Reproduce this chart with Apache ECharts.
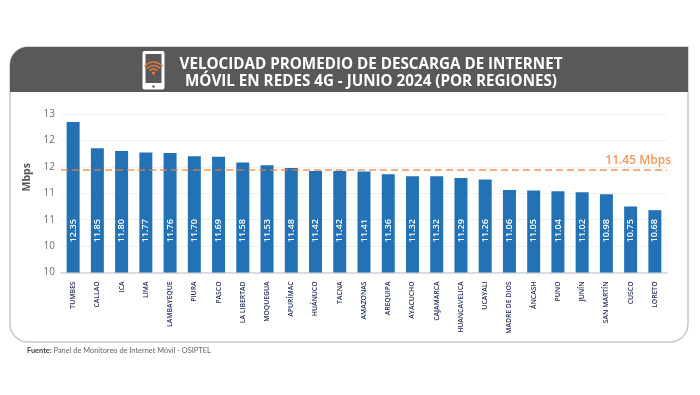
<!DOCTYPE html>
<html>
<head>
<meta charset="utf-8">
<style>
	html,body{margin:0;padding:0;background:#fff;}
	#chart{width:700px;height:395px;}
</style>
<script src="https://cdn.jsdelivr.net/npm/echarts@6/dist/echarts.min.js"></script>
</head>
<body>
<div id="chart"></div>
<script>
var regiones = ["TUMBES","CALLAO","ICA","LIMA","LAMBAYEQUE","PIURA","PASCO","LA LIBERTAD","MOQUEGUA","APURÍMAC","HUÁNUCO","TACNA","AMAZONAS","AREQUIPA","AYACUCHO","CAJAMARCA","HUANCAVELICA","UCAYALI","MADRE DE DIOS","ÁNCASH","PUNO","JUNÍN","SAN MARTÍN","CUSCO","LORETO"];
var velocidad = [12.35,11.85,11.80,11.77,11.76,11.70,11.69,11.58,11.53,11.48,11.42,11.42,11.41,11.36,11.32,11.32,11.29,11.26,11.06,11.05,11.04,11.02,10.98,10.75,10.68];
var promedio = 11.45;
//las etiquetas del eje van redondeadas en el original
var ejeValores = [9.5,10,10.5,11,11.5,12,12.5];
var ejeEtiquetas = ["10","10","11","11","12","12","13"];

var myChart = echarts.init(document.getElementById('chart'));
var fontName = '"Open Sans", sans-serif';

var option = {
	animation: false,
	backgroundColor: '#ffffff',
	textStyle: {fontFamily: fontName},
	title: {
		text: 'VELOCIDAD PROMEDIO DE DESCARGA DE INTERNET\nMÓVIL EN REDES 4G - JUNIO 2024 (POR REGIONES)',
		left: 366,
		top: 51,
		textAlign: 'center',
		textStyle: {
			color: '#ffffff',
			fontFamily: fontName,
			fontSize: 15.2,
			fontWeight: 'bold',
			lineHeight: 17
		}
	},
	grid: {left: 61, right: 33, top: 114, bottom: 122.5},
	xAxis: {
		type: 'category',
		data: regiones,
		axisTick: {show: false},
		axisLine: {lineStyle: {color: '#d2d2d2', width: 1.5}},
		axisLabel: {
			rotate: 90,
			interval: 0,
			margin: 9,
			color: '#1f2d5a',
			fontSize: 6.8,
			fontWeight: 600
		}
	},
	yAxis: {
		type: 'value',
		min: ejeValores[0],
		max: ejeValores[ejeValores.length-1],
		interval: 0.5,
		name: 'Mbps',
		nameLocation: 'middle',
		nameGap: 23,
		nameRotate: 90,
		nameTextStyle: {color: '#555555', fontSize: 10.5, fontWeight: 'bold', padding: [0,0,0,32]},
		axisLine: {show: false},
		axisTick: {show: false},
		axisLabel: {
			margin: 6,
			color: '#6e6e6e',
			fontSize: 10,
			padding: [0,0,4,0],
			formatter: function(v){
				return ejeEtiquetas[ejeValores.indexOf(v)];
			}
		},
		splitLine: {lineStyle: {color: '#f0f0f0', width: 1}}
	},
	series: [{
		type: 'bar',
		data: velocidad,
		barWidth: 13,
		itemStyle: {color: '#2372b6'},
		label: {
			show: true,
			position: 'insideBottom',
			distance: 30,
			rotate: 90,
			align: 'left',
			verticalAlign: 'middle',
			color: '#ffffff',
			fontSize: 9.2,
			fontWeight: 600,
			formatter: function(p){
				return p.value.toFixed(2);
			}
		},
		markLine: {
			silent: true,
			symbol: 'none',
			lineStyle: {color: '#ed7d31', type: [7,4], width: 1.5, opacity: 0.8},
			label: {
				position: 'insideEndTop',
				distance: [-4,3],
				color: '#ed7d31',
				fontSize: 12,
				fontWeight: 600,
				formatter: promedio + ' Mbps'
			},
			data: [{yAxis: promedio}]
		}
	}],
	graphic: [
		{type: 'rect', shape: {x: 10, y: 47, width: 678, height: 295, r: [18,0,18,18]}, style: {fill: 'none', stroke: '#c8c8c8', lineWidth: 1.5}},
		{type: 'rect', shape: {x: 10, y: 47, width: 678, height: 45, r: [18,0,0,0]}, style: {fill: '#5a5859'}},
		//icono del celular
		{type: 'rect', shape: {x: 142.5, y: 51, width: 22, height: 38.5, r: 2}, style: {fill: '#ffffff'}},
		{type: 'rect', shape: {x: 145.5, y: 54, width: 16, height: 29}, style: {fill: '#5a5859'}},
		{type: 'circle', shape: {cx: 153.5, cy: 86.5, r: 1.2}, style: {fill: '#5a5859'}},
		{type: 'circle', shape: {cx: 153.5, cy: 73, r: 1.6}, style: {fill: '#ed7d31'}},
		{type: 'arc', shape: {cx: 153.5, cy: 74, r: 5, startAngle: -2.45, endAngle: -0.69}, style: {fill: 'none', stroke: '#ed7d31', lineWidth: 1.3}},
		{type: 'arc', shape: {cx: 153.5, cy: 74, r: 8.5, startAngle: -2.45, endAngle: -0.69}, style: {fill: 'none', stroke: '#ed7d31', lineWidth: 1.3}},
		{type: 'arc', shape: {cx: 153.5, cy: 74, r: 12, startAngle: -2.45, endAngle: -0.69}, style: {fill: 'none', stroke: '#ed7d31', lineWidth: 1.3}},
		//fuente
		{
			type: 'text',
			x: 27,
			y: 347.5,
			style: {
				text: '{b|Fuente:} Panel de Monitoreo de Internet Móvil - OSIPTEL',
				fontFamily: 'Lato, sans-serif',
				fontSize: 7.4,
				fill: '#666666',
				rich: {b: {fontFamily: 'Lato, sans-serif', fontSize: 7.4, fontWeight: 'bold', fill: '#444444', color: '#444444'}}
			}
		}
	]
};
myChart.setOption(option);
</script>
</body>
</html>
